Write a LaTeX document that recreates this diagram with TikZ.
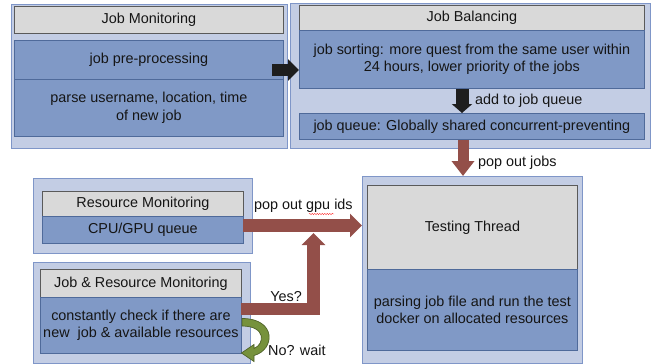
\documentclass[tikz,border=0pt]{standalone}
\usepackage{fontspec}
\setmainfont{Liberation Sans}
\usetikzlibrary{arrows.meta,decorations.pathmorphing}
\definecolor{outerfill}{HTML}{C3CDE4}
\definecolor{outerdraw}{HTML}{7F96C8}
\definecolor{bluefill}{HTML}{8099C6}
\definecolor{bluedraw}{HTML}{4F6A9A}
\definecolor{grayfill}{HTML}{D9D9D9}
\definecolor{graydraw}{HTML}{5A5A5A}
\definecolor{redarrow}{HTML}{934F49}
\definecolor{blackarrow}{HTML}{1E1E1E}
\definecolor{olive}{HTML}{76923C}
\definecolor{darkolive}{HTML}{4F6228}
\definecolor{txt}{HTML}{151515}
\begin{document}
\begin{tikzpicture}[x=1pt,y=-1pt,
  font=\fontsize{14.4}{17.5}\selectfont, text=txt,
  outerbox/.style={draw=outerdraw, fill=outerfill, line width=0.8pt, anchor=north west, inner sep=0pt},
  titlebox/.style={draw=graydraw, fill=grayfill, line width=0.8pt, anchor=north west, inner sep=0pt, align=center},
  bluebox/.style={draw=bluedraw, fill=bluefill, line width=0.8pt, anchor=north west, inner sep=0pt, align=center},
  bkarrow/.style={draw=blackarrow, line width=12pt, -{Triangle[width=21pt,length=11pt]}},
  rdarrow/.style={draw=redarrow, line width=12.5pt, -{Triangle[width=23pt,length=12pt]}, line join=miter},
  lbl/.style={inner sep=0pt, anchor=west}]
\useasboundingbox[fill=white] (0,0) rectangle (657,364);

% Job Monitoring
\node[outerbox, minimum width=276pt, minimum height=144pt] (jmo) at (11,4) {};
\node[titlebox, minimum width=269pt, minimum height=27pt] (jmt) at (14,6) {Job Monitoring};
\node[bluebox, minimum width=269pt, minimum height=39pt] (jpp) at (14,40) {job pre-processing};
\node[bluebox, minimum width=269pt, minimum height=57pt] (jpa) at (14,79) {parse username, location, time\\of new job};

% Job Balancing
\node[outerbox, minimum width=360pt, minimum height=145pt] (jbo) at (290,3) {};
\node[titlebox, minimum width=345pt, minimum height=25pt] (jbt) at (299,5) {Job Balancing};
\node[bluebox, minimum width=345pt, minimum height=58pt] (jbs) at (299,30) {job sorting: more quest from the same user within\\24 hours, lower priority of the jobs};
\node[bluebox, minimum width=345pt, minimum height=26pt] (jbq) at (299,113) {job queue: Globally shared concurrent-preventing};

% Resource Monitoring
\node[outerbox, minimum width=219pt, minimum height=75pt] (rmo) at (33,178) {};
\node[titlebox, minimum width=201pt, minimum height=25pt] (rmt) at (42,191) {Resource Monitoring};
\node[bluebox, minimum width=201pt, minimum height=27pt] (rmq) at (42,216) {CPU/GPU queue};

% Job & Resource Monitoring
\node[outerbox, minimum width=217pt, minimum height=100.5pt] (jro) at (33,262) {};
\node[titlebox, minimum width=201pt, minimum height=28pt] (jrt) at (40,269) {Job \& Resource Monitoring};
\node[bluebox, minimum width=201pt, minimum height=56pt] (jrc) at (40,297) {constantly check if there are\\new\ \ job \& available resources};

% Testing Thread
\node[outerbox, minimum width=220pt, minimum height=186.5pt] (tto) at (362,176) {};
\node[titlebox, minimum width=210pt, minimum height=84pt] (ttt) at (367,185) {Testing Thread};
\node[bluebox, minimum width=210pt, minimum height=81pt] (ttp) at (367,269) {parsing job file and run the test\\docker on allocated resources};

% connectors
\coordinate (a1s) at (272,70);
\coordinate (a1e) at (jbs.west |- a1s);
\draw[bkarrow] (a1s) -- (a1e);

\coordinate (a2s) at (462,88);
\draw[bkarrow, line width=13pt, -{Triangle[width=20pt,length=9pt]}] (jbs.south -| a2s) -- (jbq.north -| a2s);
\node[lbl] (l2) at (475,101) {add to job queue};

\coordinate (a3s) at (463,139);
\draw[rdarrow, line width=11pt, -{Triangle[width=22pt,length=15pt]}] (jbq.south -| a3s) -- (tto.north -| a3s);
\node[lbl] (l3) at (478,163) {pop out jobs};

\coordinate (a4s) at (243,225.5);
\draw[rdarrow] (a4s) -- (tto.west |- a4s);
\node[lbl] (l4) at (254,206) {pop out gpu ids};
\draw[red!80!white, line width=0.4pt, decorate, decoration={snake, amplitude=0.7pt, segment length=2.5pt}] (309,214) -- (334,214);

\coordinate (a5s) at (241,309);
\coordinate (a5e) at (313.5,233);
\draw[rdarrow] (a5s) -| (a5e);
\node[inner sep=0pt] (l5) at (286,297) {Yes?};

% green loop arrow
\filldraw[fill=olive, draw=darkolive, line width=0.7pt]
  (242,318.5) .. controls (277,318.5) and (275,350) .. (254,355.5)
  -- (254,361.5) -- (241.5,353) -- (254,344.5) -- (254,348.5)
  .. controls (265,344) and (266,326) .. (242,326) -- cycle;
\node[lbl] (l6) at (268,350) {No? wait};
\end{tikzpicture}
\end{document}
